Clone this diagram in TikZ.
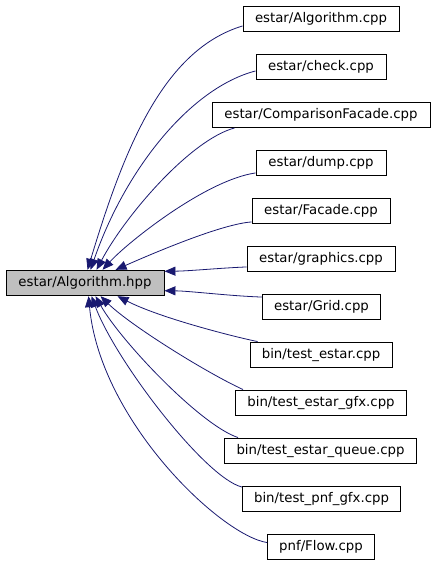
\documentclass[tikz,border=0pt]{standalone}
\usepackage{fontspec}
\setmainfont{DejaVu Sans}
\usetikzlibrary{arrows.meta}
\begin{document}
\begin{tikzpicture}[x=1pt,y=-1pt,
  box/.style={draw=black,line width=0.9pt,inner sep=0pt,minimum height=25.5pt,font=\fontsize{13.3}{15}\selectfont},
  hdr/.style={box,fill=black!25},
  edge/.style={draw={rgb,255:red,25;green,25;blue,112},line width=0.8pt,
    -{Triangle[length=11pt,width=9pt]}}]
\useasboundingbox (0,0) rectangle (435,563);
\node[hdr,minimum width=158pt] (alg) at (85,283) {estar/Algorithm.hpp};
\node[box,minimum width=156pt] (r1) at (321,18.75) {estar/Algorithm.cpp};
\node[box,minimum width=130pt] (r2) at (321,66.75) {estar/check.cpp};
\node[box,minimum width=218pt] (r3) at (321,114.75) {estar/ComparisonFacade.cpp};
\node[box,minimum width=130pt] (r4) at (321,162.75) {estar/dump.cpp};
\node[box,minimum width=138pt] (r5) at (321,210.75) {estar/Facade.cpp};
\node[box,minimum width=148pt] (r6) at (321,258.75) {estar/graphics.cpp};
\node[box,minimum width=118pt] (r7) at (321.5,306.75) {estar/Grid.cpp};
\node[box,minimum width=142pt] (r8) at (321,354.75) {bin/test\_estar.cpp};
\node[box,minimum width=171pt] (r9) at (321,402.75) {bin/test\_estar\_gfx.cpp};
\node[box,minimum width=192pt] (r10) at (320.5,450.75) {bin/test\_estar\_queue.cpp};
\node[box,minimum width=158pt] (r11) at (321.5,498.75) {bin/test\_pnf\_gfx.cpp};
\node[box,minimum width=107pt] (r12) at (321,546.75) {pnf/Flow.cpp};
\path[edge] ([yshift=6pt]r1.south west) .. controls (163,50) and (124,149) .. ([xshift=82pt]alg.north west);
\path[edge] ([yshift=9pt]r2.south west) .. controls (190,88) and (125,170) .. ([xshift=85pt]alg.north west);
\path[edge] ([xshift=23pt]r3.south west) .. controls (190,140) and (125,216) .. ([xshift=91pt]alg.north west);
\path[edge] ([yshift=3pt]r4.south west) .. controls (206,180) and (128,242) .. ([xshift=97pt]alg.north west);
\path[edge] ([yshift=2pt]r5.south west) .. controls (222,224) and (156,252) .. ([xshift=110pt]alg.north west);
\path[edge] ([yshift=5pt]r6.south west) .. controls (220,268) and (190,271) .. ([yshift=-1.5pt]alg.north east);
\path[edge] ([yshift=-3.5pt]r7.north west) .. controls (230,296) and (190,291) .. ([yshift=5.5pt]alg.south east);
\path[edge] ([xshift=8pt]r8.north west) .. controls (235,337) and (160,318) .. ([xshift=112pt]alg.south west);
\path[edge] ([xshift=8pt]r9.north west) .. controls (205,372) and (130,325) .. ([xshift=95pt]alg.south west);
\path[edge] ([xshift=14pt]r10.north west) .. controls (200,425) and (120,340) .. ([xshift=90pt]alg.south west);
\path[edge] ([yshift=-1.5pt]r11.north west) .. controls (205,478) and (115,360) .. ([xshift=86pt]alg.south west);
\path[edge] ([yshift=-9pt]r12.north west) .. controls (220,535) and (100,420) .. ([xshift=83pt]alg.south west);
\end{tikzpicture}
\end{document}
